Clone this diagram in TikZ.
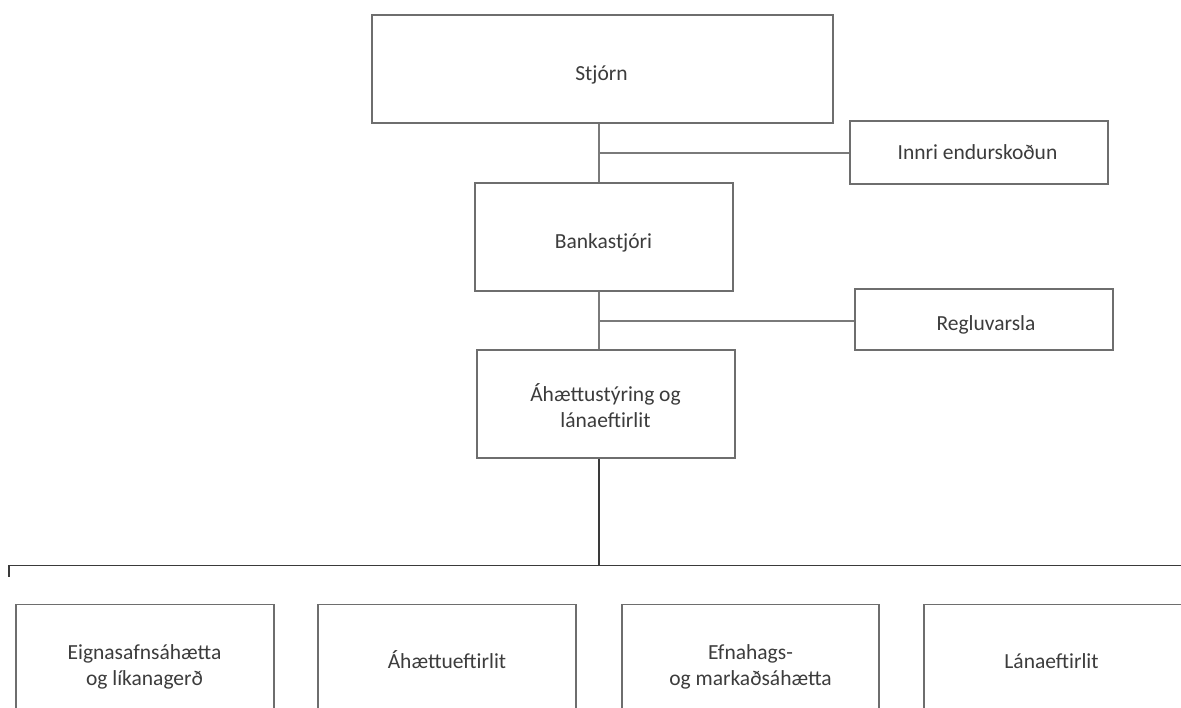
\documentclass[tikz,border=0pt]{standalone}
\usepackage{fontspec}
\setmainfont{Carlito}
\definecolor{txt}{HTML}{3C3C3C}
\definecolor{frame}{HTML}{6E6E6E}
\definecolor{link}{HTML}{7A7A7A}
\definecolor{trunk}{HTML}{3A3A3A}
\begin{document}
\begin{tikzpicture}[x=1pt,y=-1pt,
  unit/.style={draw=frame,line width=1.1pt,fill=white,inner sep=0pt},
  caption/.style={inner sep=0pt,text=txt,align=center,
    font=\fontsize{21.5}{25.5}\selectfont},
  link/.style={draw=link,line width=1.3pt},
  trunkline/.style={draw=trunk,line width=2.2pt},
  rail/.style={draw=trunk,line width=1.1pt}]
\useasboundingbox (0,0) rectangle (1181,708);
\clip (0,0) rectangle (1181,708);

% governing bodies
\node[unit,minimum width=461pt,minimum height=108pt] (board) at (602.5,69) {};
\node[unit,minimum width=258pt,minimum height=63pt] (audit) at (979,152.5) {};
\node[unit,minimum width=258pt,minimum height=108pt] (ceo) at (604,237) {};
\node[unit,minimum width=258pt,minimum height=61pt] (compl) at (984,319.5) {};
\node[unit,minimum width=258pt,minimum height=108pt] (risk) at (606,404) {};

\node[caption,anchor=base] (boardtxt) at (601.5,80.7) {Stjórn};
\node[caption,anchor=base] (audittxt) at (977.5,160) {Innri endurskoðun};
\node[caption,anchor=base] (ceotxt) at (603.5,248.3) {Bankastjóri};
\node[caption,anchor=base] (compltxt) at (986,330.7) {Regluvarsla};
\node[caption] (risktxt) at (605.5,405.5) {Áhættustýring og\\lánaeftirlit};

% department row (boxes run past the lower edge)
\node[unit,minimum width=258pt,minimum height=140pt,anchor=north] (d1) at (145,604) {};
\node[unit,minimum width=258pt,minimum height=140pt,anchor=north] (d2) at (447,604) {};
\node[unit,minimum width=257pt,minimum height=140pt,anchor=north] (d3) at (750.5,604) {};
\node[unit,minimum width=258pt,minimum height=140pt,anchor=north] (d4) at (1053,604) {};
\node[caption] (t1) at (144.5,667) {Eignasafnsáhætta\\og líkanagerð};
\node[caption,anchor=base] (t2) at (447,668) {Áhættueftirlit};
\node[caption] (t3) at (750.5,667) {Efnahags-\\og markaðsáhætta};
\node[caption,anchor=base] (t4) at (1051.5,668) {Lánaeftirlit};

% vertical spine with side branches
\coordinate (j1) at (599,153);
\coordinate (j2) at (599,321);
\draw[link] (board.south -| j1) -- (ceo.north -| j1);
\draw[link] (j1) -- (j1 -| audit.west);
\draw[link] (ceo.south -| j2) -- (risk.north -| j2);
\draw[link] (j2) -- (j2 -| compl.west);

% trunk down to the department rail
\coordinate (r0) at (599,565.5);
\coordinate (rl) at (9,565.5);
\coordinate (rr) at (1181,565.5);
\coordinate (tick) at (9,576.5);
\draw[trunkline] (risk.south -| r0) -- (r0);
\draw[rail] (tick) -- (rl) -- (rr);
\end{tikzpicture}
\end{document}
